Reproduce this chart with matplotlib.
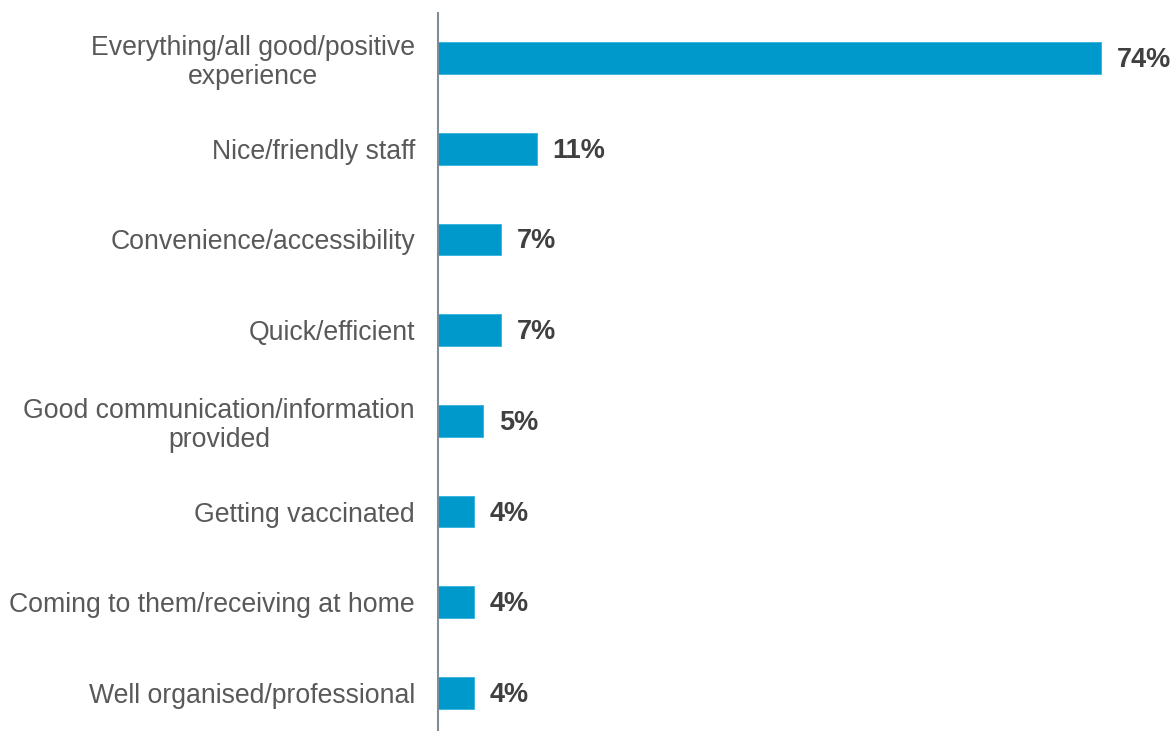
import matplotlib.pyplot as plt

plt.rcParams['font.family'] = ['Liberation Sans', 'DejaVu Sans']

categories = [
    "Everything/all good/positive\nexperience",
    "Nice/friendly staff",
    "Convenience/accessibility",
    "Quick/efficient",
    "Good communication/information\nprovided",
    "Getting vaccinated",
    "Coming to them/receiving at home",
    "Well organised/professional",
]
values = [74, 11, 7, 7, 5, 4, 4, 4]

bar_color = "#0099CC"
text_color = "#595959"
label_color = "#404040"

fig = plt.figure(figsize=(11.73, 7.31), dpi=100)
ax = fig.add_axes([438 / 1173, 0, 1 - 438 / 1173, 718 / 731])

pos = list(range(len(categories)))
ax.barh(pos, values, height=0.35, color=bar_color, edgecolor="#33B0DD", linewidth=0.6)

# bold percentage just past the end of each bar
for y, v in zip(pos, values):
    ax.annotate(f"{v}%", xy=(v, y), xytext=(11.5, -1.5), textcoords="offset points",
                ha="left", va="center", fontsize=19.5, fontweight="bold", color=label_color)

ax.set_xlim(0, 735 / 8.96)
ax.set_ylim(len(categories) - 1 + 0.42, -0.496)
ax.set_yticks(pos)
ax.set_yticklabels(categories, fontsize=19.2, color=text_color)
for lbl in ax.get_yticklabels():
    lbl.set_multialignment("center")
    lbl.set_linespacing(1.17)
ax.tick_params(axis="y", length=0, pad=16.5)
ax.set_xticks([])

for side in ["top", "right", "bottom"]:
    ax.spines[side].set_visible(False)
ax.spines["left"].set_color("#7F8C99")
ax.spines["left"].set_linewidth(1.5)

fig.savefig("out.png", dpi=100)
